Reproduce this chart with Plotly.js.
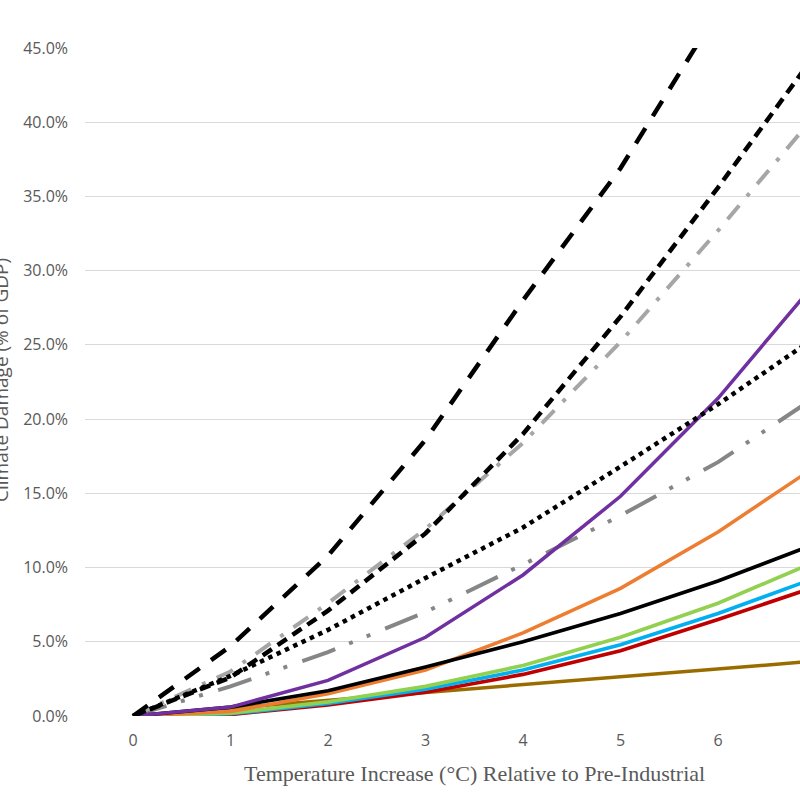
<!DOCTYPE html>
<html>
<head>
<meta charset="utf-8">
<script src="https://cdn.plot.ly/plotly-3.0.1.min.js"></script>
<style>html,body{margin:0;padding:0;background:#fff;overflow:hidden}#chart{width:800px;height:800px}</style>
</head>
<body>
<div id="chart"></div>
<script>
// Temperature increase (°C) relative to pre-industrial
const temps = [0, 1, 2, 3, 4, 5, 6, 7];
const xTickLabels = ["0", "1", "2", "3", "4", "5", "6", "7"];

// Climate damage (% of GDP) per damage function
const blackDashedHigh = [0, 4.7, 10.8, 18.6, 28.0, 36.9, 47.5, 58.5];
const blackDashed     = [0, 2.6, 7.1, 12.3, 19.0, 26.9, 35.6, 44.6];
const lightGrayDashDot= [0, 3.0, 7.6, 12.6, 18.4, 25.2, 32.7, 40.5];
const purple          = [0, 0.6, 2.4, 5.3, 9.5, 14.8, 21.4, 29.2];
const blackDotted     = [0, 2.7, 5.8, 9.3, 12.7, 16.8, 21.0, 25.5];
const darkGrayDashDot = [0, 2.0, 4.3, 7.0, 10.2, 13.5, 17.1, 21.5];
const orange          = [0, 0.3, 1.5, 3.1, 5.6, 8.6, 12.4, 16.8];
const blackSolid      = [0, 0.6, 1.7, 3.3, 5.0, 6.9, 9.1, 11.6];
const green           = [0, 0.2, 0.95, 2.0, 3.4, 5.3, 7.6, 10.4];
const blue            = [0, 0.15, 0.85, 1.8, 3.1, 4.8, 6.9, 9.3];
const red             = [0, 0.1, 0.75, 1.6, 2.8, 4.4, 6.5, 8.7];
const brown           = [0, 0.53, 1.06, 1.6, 2.12, 2.65, 3.17, 3.7];

const yTickVals = [0, 5, 10, 15, 20, 25, 30, 35, 40, 45];

function tr(y, color, width, dash) {
  return {x: temps, y: y, type: "scatter", mode: "lines",
          line: {color: color, width: width, dash: dash || "solid"},
          hoverinfo: "skip", showlegend: false};
}

const data = [
  tr(brown, "#9a6c00", 3.5),
  tr(darkGrayDashDot, "#868686", 4, "35px,15px,4px,15px,4px,16px"),
  tr(lightGrayDashDot, "#a6a6a6", 4, "18px,12px,4px,12px"),
  tr(red, "#c00000", 3.7),
  tr(blue, "#00b0f0", 3.7),
  tr(green, "#92d050", 3.7),
  tr(orange, "#ed7d31", 3.5),
  tr(blackSolid, "#000000", 3.7),
  tr(purple, "#7030a0", 3.5),
  tr(blackDotted, "#000000", 4.5, "4.5px,4.7px"),
  tr(blackDashed, "#000000", 4.5, "11px,7px"),
  tr(blackDashedHigh, "#000000", 4.5, "18px,14px")
];

const tickFont = {family: "Open Sans, Noto Sans, sans-serif", size: 16, color: "#595959"};

const layout = {
  width: 800, height: 800,
  margin: {l: 85, r: 0, t: 48, b: 84},
  paper_bgcolor: "#ffffff", plot_bgcolor: "#ffffff",
  showlegend: false,
  xaxis: {
    range: [-0.4923, 6.841],
    tickmode: "array", tickvals: temps, ticktext: xTickLabels,
    showgrid: false, zeroline: false, showline: false, ticks: "",
    tickfont: tickFont, ticklabelstandoff: 13
  },
  yaxis: {
    range: [0, 45],
    tickmode: "array", tickvals: yTickVals,
    ticktext: yTickVals.map(v => v.toFixed(1) + "%"),
    showgrid: true, gridcolor: "#d9d9d9", gridwidth: 1,
    zeroline: false, showline: false, ticks: "",
    tickfont: tickFont, ticklabelstandoff: 16
  },
  annotations: [
    {text: "Temperature Increase (°C) Relative to Pre-Industrial",
     xref: "paper", yref: "paper", x: (475 - 85) / 715, y: (716 - 773) / 668,
     xanchor: "center", yanchor: "middle", showarrow: false,
     font: {family: "Liberation Serif, serif", size: 22, color: "#595959"}},
    {text: "Climate Damage (% of GDP)",
     xref: "paper", yref: "paper", x: (1 - 85) / 715, y: (716 - 380) / 668,
     xanchor: "center", yanchor: "middle", showarrow: false, textangle: -90,
     font: {family: "Open Sans, Noto Sans, sans-serif", size: 19, color: "#595959"}}
  ]
};

Plotly.newPlot("chart", data, layout, {staticPlot: true, displayModeBar: false});
</script>
</body>
</html>
